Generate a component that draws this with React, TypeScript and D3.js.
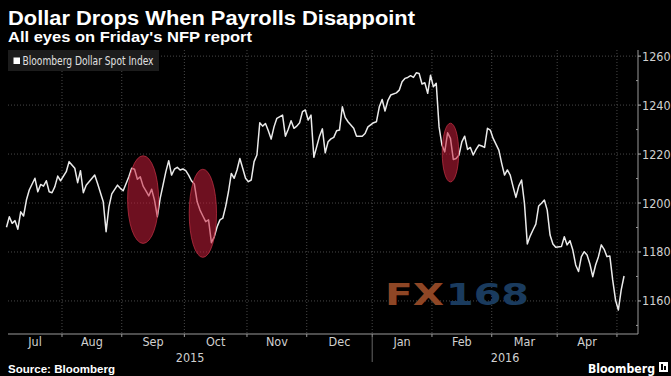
import React from "react";
import * as d3 from "d3";

const title = "Dollar Drops When Payrolls Disappoint";
const subtitle = "All eyes on Friday's NFP report";
const seriesName = "Bloomberg Dollar Spot Index";
const sourceText = "Source: Bloomberg";
const brandText = "Bloomberg";

const dates = [
  "2015-07-06","2015-07-07","2015-07-08","2015-07-09","2015-07-10","2015-07-13","2015-07-14","2015-07-15","2015-07-16","2015-07-20",
  "2015-07-21","2015-07-22","2015-07-23","2015-07-24","2015-07-27","2015-07-28","2015-07-29","2015-07-30","2015-07-31","2015-08-04",
  "2015-08-05","2015-08-07","2015-08-10","2015-08-11","2015-08-12","2015-08-13","2015-08-18","2015-08-19","2015-08-21","2015-08-24",
  "2015-08-25","2015-08-26","2015-08-28","2015-08-31","2015-09-01","2015-09-03","2015-09-04","2015-09-07","2015-09-08","2015-09-09",
  "2015-09-10","2015-09-11","2015-09-14","2015-09-15","2015-09-16","2015-09-17","2015-09-18","2015-09-21","2015-09-22","2015-09-23",
  "2015-09-24","2015-09-25","2015-09-28","2015-09-29","2015-09-30","2015-10-01","2015-10-02","2015-10-05","2015-10-06","2015-10-07",
  "2015-10-08","2015-10-09","2015-10-12","2015-10-13","2015-10-14","2015-10-15","2015-10-16","2015-10-19","2015-10-20","2015-10-21",
  "2015-10-22","2015-10-23","2015-10-26","2015-10-27","2015-10-28","2015-10-29","2015-10-30","2015-11-02","2015-11-03","2015-11-04",
  "2015-11-05","2015-11-06","2015-11-09","2015-11-10","2015-11-11","2015-11-12","2015-11-13","2015-11-16","2015-11-18","2015-11-19",
  "2015-11-20","2015-11-23","2015-11-24","2015-11-25","2015-11-26","2015-11-27","2015-11-30","2015-12-01","2015-12-02","2015-12-03",
  "2015-12-07","2015-12-08","2015-12-09","2015-12-10","2015-12-11","2015-12-14","2015-12-15","2015-12-16","2015-12-17","2015-12-18",
  "2015-12-21","2015-12-23","2015-12-24","2015-12-28","2015-12-29","2015-12-30","2016-01-01","2016-01-04","2016-01-05","2016-01-06",
  "2016-01-07","2016-01-08","2016-01-11","2016-01-13","2016-01-14","2016-01-15","2016-01-18","2016-01-19","2016-01-20","2016-01-21",
  "2016-01-22","2016-01-25","2016-01-26","2016-01-27","2016-01-28","2016-01-29","2016-02-01","2016-02-02","2016-02-03","2016-02-04",
  "2016-02-05","2016-02-08","2016-02-09","2016-02-10","2016-02-11","2016-02-12","2016-02-15","2016-02-16","2016-02-17","2016-02-18",
  "2016-02-19","2016-02-22","2016-02-23","2016-02-24","2016-02-25","2016-02-26","2016-02-29","2016-03-01","2016-03-03","2016-03-04",
  "2016-03-07","2016-03-08","2016-03-09","2016-03-10","2016-03-11","2016-03-14","2016-03-15","2016-03-16","2016-03-17","2016-03-18",
  "2016-03-21","2016-03-22","2016-03-23","2016-03-24","2016-03-25","2016-03-28","2016-03-29","2016-03-30","2016-03-31","2016-04-04",
  "2016-04-05","2016-04-06","2016-04-07","2016-04-08","2016-04-11","2016-04-12","2016-04-13","2016-04-14","2016-04-15","2016-04-18",
  "2016-04-19","2016-04-20","2016-04-21","2016-04-22","2016-04-25","2016-04-26","2016-04-27","2016-04-28","2016-04-29","2016-05-02",
  "2016-05-03","2016-05-04"
];

const values = [
  1190.1,1194.4,1191.7,1192.8,1189.3,1196.4,1194.7,1201.2,1205.3,1210.1,
  1204.6,1207.6,1206.9,1209.1,1204.6,1204.2,1206.7,1211.0,1209.1,1212.8,
  1216.9,1214.2,1208.3,1213.2,1204.2,1207.3,1211.4,1208.0,1200.5,1188.3,
  1198.5,1203.7,1207.3,1206.0,1205.0,1210.7,1214.2,1213.8,1209.7,1210.7,
  1206.9,1205.0,1202.9,1205.6,1201.2,1194.4,1201.9,1207.3,1212.8,1217.3,
  1211.4,1213.8,1214.6,1213.5,1213.9,1213.2,1211.4,1209.1,1207.8,1200.5,
  1197.1,1194.7,1192.4,1193.1,1183.8,1186.2,1190.3,1193.1,1193.8,1198.5,
  1204.6,1212.1,1210.1,1213.5,1218.2,1214.2,1210.1,1208.7,1209.4,1216.9,
  1219.6,1232.8,1231.4,1232.5,1229.5,1226.1,1231.1,1234.6,1235.9,1227.3,
  1230.1,1233.6,1230.5,1231.4,1232.8,1237.3,1238.0,1233.9,1235.9,1218.7,
  1227.3,1230.3,1220.5,1225.0,1226.2,1226.8,1229.5,1229.8,1239.3,1235.0,
  1233.2,1230.5,1227.3,1227.3,1228.4,1231.1,1232.8,1233.2,1239.3,1242.3,
  1237.6,1241.8,1244.1,1245.0,1246.1,1249.5,1250.9,1251.3,1252.0,1251.3,
  1253.2,1252.9,1248.6,1249.1,1244.8,1252.2,1247.5,1248.9,1231.1,1223.7,
  1220.9,1228.7,1226.4,1217.8,1218.2,1219.6,1225.0,1227.3,1221.9,1222.7,
  1219.6,1221.9,1223.7,1223.3,1222.7,1230.5,1229.8,1226.4,1221.6,1216.2,
  1211.4,1213.5,1211.4,1206.7,1202.3,1206.9,1209.4,1199.9,1183.3,1186.5,
  1189.0,1191.4,1198.8,1199.9,1201.2,1197.1,1186.9,1183.3,1181.9,1182.2,
  1186.2,1182.9,1184.6,1180.8,1174.7,1172.0,1178.1,1180.1,1178.8,1175.1,
  1169.9,1174.7,1178.1,1182.9,1181.1,1178.1,1178.4,1168.6,1160.4,1156.3,
  1164.5,1170.2
];

const yTicks = [1160, 1180, 1200, 1220, 1240, 1260];
const yMinorTicks = [1150, 1170, 1190, 1210, 1230, 1250];
const monthLabels = ["Jul", "Aug", "Sep", "Oct", "Nov", "Dec", "Jan", "Feb", "Mar", "Apr", ""];
const monthStarts = [
  "2015-07-01","2015-08-01","2015-09-01","2015-10-01","2015-11-01","2015-12-01",
  "2016-01-01","2016-02-01","2016-03-01","2016-04-01","2016-05-01","2016-06-01"
];
const yearLabels = ["2015", "2016"];
const yearStarts = ["2015-07-01", "2016-01-01", "2017-01-01"];

const highlightDates = ["2015-09-10", "2015-10-09", "2016-02-09"];
const highlightValues = [1201.4, 1195.8, 1220.6];
const highlightHalfDays = [5.45, 4.8, 2.9];
const highlightHalfValues = [17.9, 18.0, 12.0];

const W = 671;
const H = 376;
const plotLeft = 8;
const plotRight = 638;
const plotTop = 50;
const plotBottom = 334;

const ORIGIN = Date.UTC(2015, 7, 3); // Monday
function weekdayIndex(s: string): number {
  const [yy, mm, dd] = s.split("-").map(Number);
  const days = Math.round((Date.UTC(yy, mm - 1, dd) - ORIGIN) / 864e5);
  const w = Math.floor(days / 7);
  const r = days - w * 7;
  return w * 5 + Math.min(r, 5);
}

const condensed = "'DejaVu Sans Condensed', 'Liberation Sans Narrow', 'DejaVu Sans', sans-serif";
const boldSans = "'Liberation Sans', Arial, sans-serif";

export default function App() {
  const x = d3.scaleLinear().domain([-19.47, 201.9]).range([plotLeft, plotRight]);
  const y = d3.scaleLinear().domain([1146.5, 1262.5]).range([plotBottom, plotTop]);

  const pts = dates.map((d, i) => [x(weekdayIndex(d)), y(values[i])] as [number, number]);
  const linePath = d3.line()(pts) || "";

  const boundaries = monthStarts.map((m) => x(weekdayIndex(m) - 0.5));
  const clampX = (v: number) => Math.max(plotLeft, Math.min(plotRight, v));

  const yearBounds = yearStarts.map((m) => clampX(x(weekdayIndex(m) - 0.5)));

  return (
    <svg
      width={W}
      height={H}
      viewBox={`0 0 ${W} ${H}`}
      style={{ position: "absolute", left: 0, top: 0, background: "#000" }}
    >
      <rect x={0} y={0} width={W} height={H} fill="#000" />

      {/* horizontal gridlines */}
      {yTicks.map((t) => (
        <line key={"hg" + t} x1={plotLeft} x2={plotRight} y1={y(t)} y2={y(t)}
          stroke="#5a5a5a" strokeWidth={0.8} strokeDasharray="1,2" />
      ))}
      {/* vertical gridlines at month boundaries */}
      {boundaries.map((bx, i) =>
        bx > plotLeft && bx < plotRight ? (
          <line key={"vg" + i} x1={bx} x2={bx} y1={plotTop} y2={plotBottom}
            stroke="#5a5a5a" strokeWidth={0.8} strokeDasharray="1,2" />
        ) : null
      )}

      {/* title */}
      <text x={8} y={24.5} fill="#fff" fontFamily={boldSans} fontWeight={700} fontSize={20}
        textLength={407} lengthAdjust="spacingAndGlyphs">{title}</text>
      <text x={8} y={42} fill="#fff" fontFamily={boldSans} fontWeight={700} fontSize={14}
        textLength={244} lengthAdjust="spacingAndGlyphs">{subtitle}</text>

      {/* legend */}
      <rect x={8} y={50} width={151} height={21} fill="#1c1c1c" />
      <rect x={13.5} y={57.5} width={6.5} height={6.5} fill="#fff" />
      <text x={22.5} y={64.5} fill="#e0e0e0" fontFamily={condensed} fontSize={11.5}
        textLength={131} lengthAdjust="spacingAndGlyphs">{seriesName}</text>

      {/* watermark */}
      <text x={385} y={305} fill="#8e4625" fontFamily="'DejaVu Sans', sans-serif" fontWeight={700}
        fontSize={30} textLength={59} lengthAdjust="spacingAndGlyphs">FX</text>
      <text x={446} y={305} fill="#1a3b5e" fontFamily="'DejaVu Sans', sans-serif" fontWeight={700}
        fontSize={30} textLength={83} lengthAdjust="spacingAndGlyphs">168</text>

      {/* series line */}
      <path d={linePath} fill="none" stroke="#ebebeb" strokeWidth={1.5} strokeLinejoin="round" />

      {/* highlight ellipses */}
      {highlightDates.map((d, i) => {
        const cx = x(weekdayIndex(d));
        const cy = y(highlightValues[i]);
        const rx = x(weekdayIndex(d) + highlightHalfDays[i]) - cx;
        const ry = cy - y(highlightValues[i] + highlightHalfValues[i]);
        return (
          <ellipse key={"el" + i} cx={cx} cy={cy} rx={rx} ry={ry}
            fill="rgb(200,30,58)" fillOpacity={0.55}
            stroke="rgb(200,50,70)" strokeOpacity={0.7} strokeWidth={1} />
        );
      })}

      {/* axes */}
      <line x1={plotRight} x2={plotRight} y1={plotTop} y2={plotBottom} stroke="#9a9a9a" strokeWidth={1} />
      <line x1={plotLeft} x2={plotRight} y1={plotBottom} y2={plotBottom} stroke="#9a9a9a" strokeWidth={1} />
      {yTicks.map((t) => (
        <g key={"yt" + t}>
          <line x1={plotRight} x2={plotRight + 3} y1={y(t)} y2={y(t)} stroke="#bbb" strokeWidth={1} />
          <text x={642} y={y(t) + 4.5} fill="#d0d0d0" fontFamily={condensed} fontSize={12.5}>{t}</text>
        </g>
      ))}
      {yMinorTicks.map((t) => (
        <line key={"ym" + t} x1={plotRight - 2} x2={plotRight} y1={y(t)} y2={y(t)} stroke="#9a9a9a" strokeWidth={1} />
      ))}

      {boundaries.map((bx, i) =>
        bx > plotLeft && bx < plotRight ? (
          <line key={"mt" + i} x1={bx} x2={bx} y1={plotBottom} y2={plotBottom + 3} stroke="#9a9a9a" strokeWidth={1} />
        ) : null
      )}
      {monthLabels.map((m, i) => {
        if (!m) return null;
        const a = clampX(boundaries[i]);
        const b = clampX(boundaries[i + 1]);
        return (
          <text key={"ml" + i} x={(a + b) / 2} y={345.5} textAnchor="middle" fill="#d0d0d0"
            fontFamily={condensed} fontSize={12.5}>{m}</text>
        );
      })}
      {yearLabels.map((yl, i) => (
        <text key={"yl" + i} x={(yearBounds[i] + yearBounds[i + 1]) / 2} y={361.5} textAnchor="middle"
          fill="#d0d0d0" fontFamily={condensed} fontSize={12.5}>{yl}</text>
      ))}
      <line x1={yearBounds[1]} x2={yearBounds[1]} y1={337} y2={362} stroke="#666" strokeWidth={1} />

      {/* footer */}
      <text x={8} y={373} fill="#fff" fontFamily={boldSans} fontWeight={700} fontSize={11}
        textLength={107} lengthAdjust="spacingAndGlyphs">{sourceText}</text>
      <text x={588} y={372.5} fill="#fff" fontFamily={condensed} fontWeight={700} fontSize={13}
        textLength={67} lengthAdjust="spacingAndGlyphs">{brandText}</text>
      <rect x={659} y={362} width={9} height={10} fill="#fff" />
      <rect x={661} y={364} width={2} height={6} fill="#000" />
      <rect x={664} y={366} width={2} height={4} fill="#000" />
    </svg>
  );
}
